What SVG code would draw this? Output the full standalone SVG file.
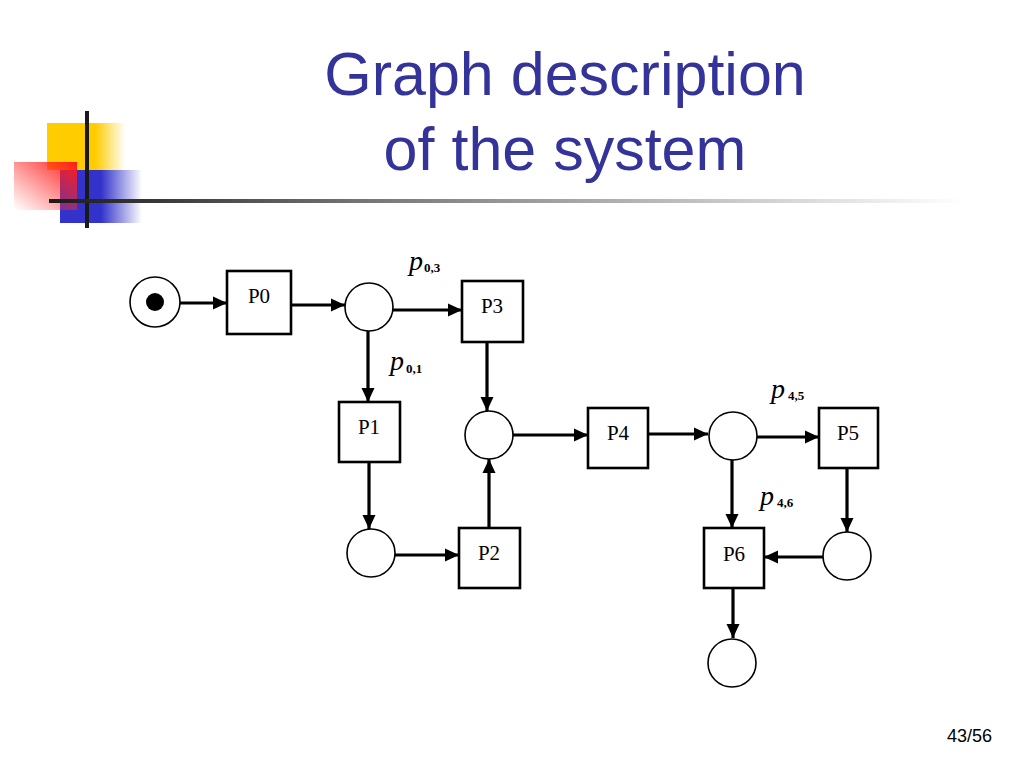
<svg xmlns="http://www.w3.org/2000/svg" width="1024" height="768" viewBox="0 0 1024 768">
<defs>
<linearGradient id="gy" x1="0" y1="0" x2="1" y2="0"><stop offset="0.62" stop-color="#FFCC00"/><stop offset="1" stop-color="#FFCC00" stop-opacity="0"/></linearGradient>
<linearGradient id="gb" x1="0" y1="0" x2="1" y2="0"><stop offset="0.5" stop-color="#3333CC"/><stop offset="1" stop-color="#3333CC" stop-opacity="0"/></linearGradient>
<linearGradient id="gr" x1="1" y1="0" x2="0" y2="1"><stop offset="0" stop-color="#FF1A1A"/><stop offset="1" stop-color="#FF3333" stop-opacity="0"/></linearGradient>
<linearGradient id="gl" x1="0" y1="0" x2="1" y2="0"><stop offset="0" stop-color="#1a1a1a"/><stop offset="0.35" stop-color="#777"/><stop offset="1" stop-color="#fff"/></linearGradient>
<marker id="ah" viewBox="0 0 14 14" refX="14" refY="7" markerWidth="14" markerHeight="14" markerUnits="userSpaceOnUse" orient="auto"><path d="M0,0.5 L14,7 L0,13.5 z" fill="#000"/></marker>
</defs>
<style>
.box{fill:#fff;stroke:#000;stroke-width:2.6}
.pl{fill:#fff;stroke:#000;stroke-width:1.6}
.lbl{font-family:"Liberation Serif",serif;font-size:21px;fill:#000;text-anchor:middle}
.c{fill:none;stroke:#000;stroke-width:3.2;marker-end:url(#ah)}
.p{font-family:"Liberation Serif",serif;font-style:italic;font-size:28px;fill:#000}
.s{font-family:"Liberation Serif",serif;font-weight:bold;font-size:13px;fill:#000}
.title{font-family:"Liberation Sans",Arial,sans-serif;font-size:61px;fill:#333399;text-anchor:middle}
</style>
<g id="logo">
<rect x="47" y="123" width="78" height="47" fill="url(#gy)"/>
<rect x="60" y="170" width="82" height="53" fill="url(#gb)"/>
<rect x="14" y="162" width="63" height="48" fill="url(#gr)"/>
<rect x="85" y="111" width="4" height="117" fill="#1a1a1a"/>
<rect x="49" y="199" width="916" height="4" fill="url(#gl)"/>
</g>
<g id="title">
<text class="title" x="565" y="95">Graph description</text>
<text class="title" x="565" y="170">of the system</text>
</g>
<g id="connectors">
<line class="c" x1="180" y1="303" x2="227" y2="303"/>
<line class="c" x1="291" y1="305" x2="345" y2="305"/>
<line class="c" x1="393" y1="310" x2="462" y2="310"/>
<line class="c" x1="368" y1="331" x2="368" y2="402"/>
<line class="c" x1="487" y1="342" x2="487" y2="411"/>
<line class="c" x1="369" y1="462" x2="369" y2="529"/>
<line class="c" x1="395" y1="555" x2="459" y2="555"/>
<line class="c" x1="489" y1="528" x2="489" y2="459"/>
<line class="c" x1="513" y1="435" x2="588" y2="435"/>
<line class="c" x1="648" y1="434" x2="708" y2="434"/>
<line class="c" x1="757" y1="437" x2="819" y2="437"/>
<line class="c" x1="732" y1="460" x2="732" y2="528"/>
<line class="c" x1="847" y1="468" x2="847" y2="532"/>
<line class="c" x1="823" y1="557" x2="764" y2="557"/>
<line class="c" x1="733" y1="588" x2="733" y2="638"/>
</g>
<g id="start"><circle class="pl" cx="155" cy="302" r="25"/><circle cx="155" cy="302" r="9" fill="#000"/></g>
<g id="P0"><rect class="box" x="227" y="271" width="64" height="63"/><text class="lbl" x="259" y="303">P0</text></g>
<g id="pA"><circle class="pl" cx="369" cy="307" r="24"/></g>
<g id="P3"><rect class="box" x="462" y="281" width="61" height="61"/><text class="lbl" x="492" y="313">P3</text></g>
<g id="P1"><rect class="box" x="339" y="402" width="61" height="60"/><text class="lbl" x="369" y="434">P1</text></g>
<g id="pB"><circle class="pl" cx="489" cy="435" r="24"/></g>
<g id="pC"><circle class="pl" cx="371" cy="553" r="24"/></g>
<g id="P2"><rect class="box" x="459" y="528" width="61" height="60"/><text class="lbl" x="489" y="560">P2</text></g>
<g id="P4"><rect class="box" x="588" y="408" width="60" height="60"/><text class="lbl" x="618" y="440">P4</text></g>
<g id="pD"><circle class="pl" cx="733" cy="436" r="24"/></g>
<g id="P5"><rect class="box" x="819" y="408" width="59" height="60"/><text class="lbl" x="848" y="440">P5</text></g>
<g id="pE"><circle class="pl" cx="847" cy="556" r="24"/></g>
<g id="P6"><rect class="box" x="704" y="528" width="60" height="60"/><text class="lbl" x="734" y="561">P6</text></g>
<g id="pF"><circle class="pl" cx="732" cy="663" r="24"/></g>
<g id="labels">
<text class="p" x="409" y="270">p</text><text class="s" x="424" y="272">0,3</text>
<text class="p" x="390" y="370">p</text><text class="s" x="406" y="373">0,1</text>
<text class="p" x="771" y="398">p</text><text class="s" x="788" y="400">4,5</text>
<text class="p" x="760" y="505">p</text><text class="s" x="777" y="507">4,6</text>
</g>
<text x="992" y="742" font-family="Liberation Sans,Arial,sans-serif" font-size="18" text-anchor="end" fill="#000">43/56</text>
</svg>
